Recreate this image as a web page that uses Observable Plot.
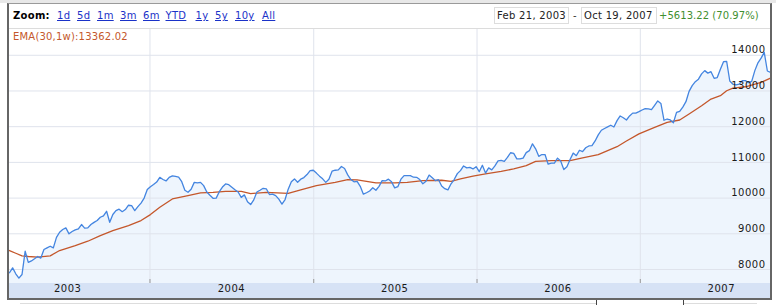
<!DOCTYPE html>
<html><head><meta charset="utf-8">
<script src="https://cdn.jsdelivr.net/npm/d3@7"></script>
<script src="https://cdn.jsdelivr.net/npm/@observablehq/plot@0.6"></script>
<style>
body{margin:0;background:#fff;font-family:"DejaVu Sans",Verdana,sans-serif;}
#wrap{position:relative;width:776px;height:305px;overflow:hidden;background:#fff;}
.abs{position:absolute;}
#topstrip{left:0;top:0;width:776px;height:3px;background:#e8e8e8;}
#band{left:9px;top:283px;width:761px;height:15px;background:#d6e2f5;z-index:0;}
#chart{left:0;top:0;z-index:1;}
#frame{left:7px;top:3px;width:765px;height:297px;box-sizing:border-box;border-top:1px solid #9a9a9a;border-left:2px solid #666;border-right:2px solid #666;border-bottom:2px solid #666;z-index:2;pointer-events:none;}
#hline{left:9px;top:28px;width:761px;height:1px;background:#dcdcdc;z-index:2;}
.t10{font-size:10px;line-height:12px;letter-spacing:0.3px;white-space:nowrap;z-index:3;}
.lnk{color:#1a32c8;text-decoration:underline;}
.box{border:1px solid #dddddd;height:15px;line-height:15px;padding-left:2px;box-sizing:content-box;}
</style></head><body>
<div id="wrap">
  <div id="topstrip" class="abs"></div>
  <div id="band" class="abs"></div>
  <div id="chart" class="abs"></div>
  <div id="frame" class="abs"></div>
  <div id="hline" class="abs"></div>
  <div id="header"></div>
  <div class="abs" style="left:20px;top:303px;width:576px;height:1px;background:#dddddd"></div>
  <div class="abs" style="left:596px;top:300px;width:1px;height:5px;background:#444"></div>
  <div class="abs" style="left:683px;top:300px;width:1px;height:5px;background:#444"></div>
  <div class="abs" style="left:684px;top:303px;width:73px;height:1px;background:#dddddd"></div>
</div>
<script>
// ---- data ----
const startDate = "2003-02-21";           // first weekly close
const closeVals = [
  7909, 8047, 7880, 7757, 7860, 8512, 8200, 8240, 8299, 8364,
  8320, 8559, 8607, 8652, 8607, 8900, 9044, 9120, 9166, 8999,
  9063, 9110, 9138, 9259, 9160, 9166, 9260, 9320, 9371, 9463,
  9502, 9631, 9323, 9540, 9650, 9690, 9620, 9680, 9800, 9790,
  9650, 9760, 9860, 10000, 10240, 10320, 10380, 10450, 10582, 10520,
  10480, 10582, 10621, 10610, 10590, 10460, 10220, 10162, 10250, 10440,
  10425, 10440, 10350, 10170, 10080, 9995, 10000, 10180, 10310, 10397,
  10377, 10305, 10235, 10170, 10020, 10090, 9900, 9818, 9950, 10170,
  10220, 10274, 10260, 10100, 10110, 10070, 9970, 9830, 9960, 10250,
  10460, 10537, 10442, 10530, 10575, 10660, 10770, 10780, 10700, 10615,
  10540, 10440, 10530, 10755, 10780, 10790, 10885, 10830, 10650, 10520,
  10455, 10470, 10330, 10110, 10150, 10200, 10290, 10220, 10330, 10490,
  10480, 10530, 10455, 10285, 10320, 10530, 10629, 10629, 10629, 10585,
  10582, 10520, 10400, 10470, 10645, 10570, 10489, 10515, 10340, 10265,
  10230, 10400, 10520, 10685, 10770, 10900, 10845, 10860, 10817, 10880,
  10740, 10920, 10700, 10845, 10790, 10900, 11040, 11055, 11030, 11140,
  11270, 11253, 11100, 11096, 11120, 11275, 11328, 11520, 11380, 11170,
  11220, 11220, 10950, 10980, 10980, 11120, 11040, 10800, 10880, 11080,
  11260, 11189, 11340, 11300, 11410, 11460, 11468, 11600, 11770, 11900,
  11950, 11995, 12040, 11990, 12170, 12300, 12250, 12187, 12300, 12380,
  12380, 12420, 12467, 12505, 12500, 12480, 12600, 12720, 12652, 12180,
  12215, 12190, 12110, 12400, 12430, 12550, 12700, 12990, 13150, 13260,
  13330, 13480, 13570, 13500, 13540, 13355, 13375, 13610, 13820, 13830,
  13280, 13190, 13170, 13190, 13290, 13290, 13230, 13270, 13570, 13790,
  13920, 14080, 13560, 13522
];
// EMA(30,1w): week number since start, value
const emaWeeks = [0,2,4,6,9,13,16,21,25,29,33,38,42,45,48,52,57,61,65,69,74,77,82,89,93,98,104,108,111,114,117,123,127,132,138,141,144,148,152,157,161,165,168,173,176,179,183,188,191,194,197,201,206,210,214,217,221,224,227,229,231,235,240,243];
const emaVals = [8531,8456,8383,8364,8344,8383,8531,8671,8792,8951,9091,9231,9371,9538,9743,9977,10070,10145,10162,10190,10190,10125,10162,10134,10229,10349,10442,10517,10509,10470,10425,10425,10442,10489,10500,10470,10537,10615,10677,10749,10817,10909,11029,11049,11049,11049,11124,11217,11328,11440,11600,11800,11980,12120,12187,12355,12587,12775,12867,13007,13082,13118,13239,13362];
const yTicks = [8000, 9000, 10000, 11000, 12000, 13000, 14000];
const years = [2003, 2004, 2005, 2006, 2007];
const zoomLinks = ["1d", "5d", "1m", "3m", "6m", "YTD", "1y", "5y", "10y", "All"];
const rangeFrom = "Feb 21, 2003";
const rangeTo = "Oct 19, 2007";
const changeText = "+5613.22 (70.97%)";
const emaLabel = "EMA(30,1w):13362.02";

// ---- build ----
const WEEK = 7 * 864e5;
const t0 = Date.parse(startDate + "T00:00:00Z");
const closeData = closeVals.map((v, i) => ({date: new Date(t0 + i * WEEK), v}));
const emaData = emaWeeks.map((w, i) => ({date: new Date(t0 + w * WEEK), v: emaVals[i]}));
const yearStarts = years.slice(1).map(y => new Date(Date.UTC(y, 0, 1)));

const chart = Plot.plot({
  width: 776, height: 305,
  marginTop: 28, marginBottom: 22, marginLeft: 9, marginRight: 6,
  style: "background:transparent;font-family:'DejaVu Sans';letter-spacing:0.5px;",
  x: {type: "utc", domain: [new Date(t0), new Date(t0 + (closeVals.length - 1) * WEEK)], axis: null},
  y: {domain: [7608, 14750], axis: null},
  marks: [
    Plot.areaY(closeData, {x: "date", y: "v", fill: "#eef5fd", clip: true}),
    Plot.ruleY(yTicks, {stroke: "#dfe3ec"}),
    Plot.ruleX(yearStarts, {stroke: "#dfe3ec"}),
    Plot.ruleX(yearStarts, {stroke: "#9a9a9a", insetTop: 251}),
    Plot.lineY(emaData, {x: "date", y: "v", stroke: "#c4572b", strokeWidth: 1.3}),
    Plot.lineY(closeData, {x: "date", y: "v", stroke: "#4485e0", strokeWidth: 1.3}),
    Plot.text(yTicks, {y: d => d, text: d => String(d), frameAnchor: "right", textAnchor: "end",
      dx: -5, dy: -5, fontSize: 10, fontFamily: "DejaVu Sans", fill: "#1a1a1a"}),
    Plot.text(years, {x: d => new Date(Date.UTC(d, 6, 1)), text: d => String(d), frameAnchor: "bottom",
      dy: 8, fontSize: 10, fontFamily: "DejaVu Sans", fill: "#1a1a1a"})
  ]
});
document.getElementById("chart").appendChild(chart);

// header (HTML text)
const header = document.getElementById("header");
function addText(txt, left, top, cls, extra) {
  const el = document.createElement("div");
  el.className = "abs t10 " + (cls || "");
  el.textContent = txt;
  el.style.left = left + "px";
  el.style.top = top + "px";
  if (extra) Object.assign(el.style, extra);
  header.appendChild(el);
  return el;
}
addText("Zoom:", 13, 10, "", {fontWeight: "bold", color: "#000"});
const linkX = [57, 77, 97, 120, 143, 165.5, 195.5, 215, 235, 262];
zoomLinks.forEach((t, i) => addText(t, linkX[i], 10, "lnk"));
addText(rangeFrom, 494, 7, "box", {width: "71px", color: "#222"});
addText("-", 573, 10, "", {color: "#333"});
addText(rangeTo, 581, 7, "box", {width: "72px", color: "#222"});
addText(changeText, 659, 10, "", {color: "#3f8f2f", letterSpacing: "0.05px"});
addText(emaLabel, 13, 31, "", {color: "#c4572b", letterSpacing: "0.2px"});
</script>
</body></html>
